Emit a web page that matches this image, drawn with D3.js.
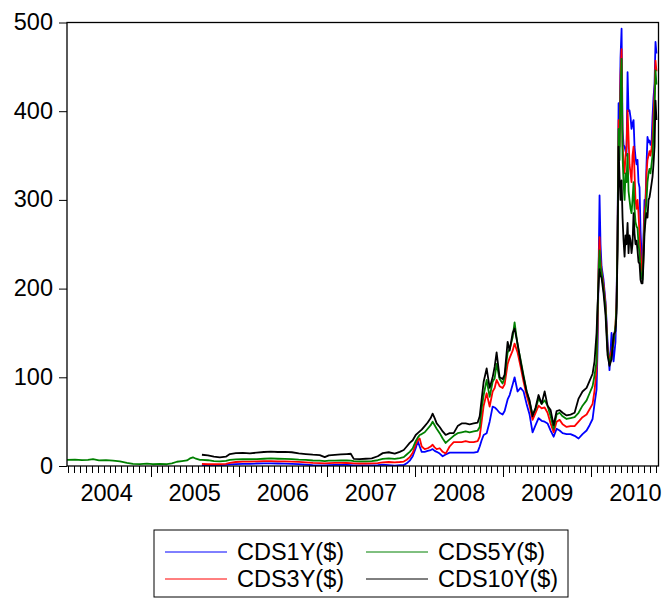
<!DOCTYPE html>
<html>
<head>
<meta charset="utf-8">
<script src="https://cdn.jsdelivr.net/npm/d3@7"></script>
<style>
  body { margin: 0; background: #fff; }
  text { font-family: "Liberation Sans", Arial, sans-serif; fill: #000; }
</style>
</head>
<body>
<svg id="chart" width="664" height="599"></svg>
<script>
// time in decimal years
const t = [
  2004.051, 2004.142, 2004.221, 2004.289, 2004.346, 2004.414, 2004.493, 2004.573, 2004.652, 2004.731,
  2004.799, 2004.879, 2004.958, 2005.026, 2005.105, 2005.185, 2005.241, 2005.298, 2005.355, 2005.412,
  2005.446, 2005.480, 2005.514, 2005.559,
  2005.582, 2005.650, 2005.718, 2005.786, 2005.854, 2005.899, 2005.967, 2006.046, 2006.126, 2006.205,
  2006.285, 2006.364, 2006.443, 2006.523, 2006.602, 2006.681, 2006.761, 2006.840, 2006.919, 2006.976,
  2007.022, 2007.090, 2007.158, 2007.226, 2007.271, 2007.305, 2007.373, 2007.441, 2007.509, 2007.577,
  2007.634, 2007.702, 2007.770, 2007.827, 2007.872, 2007.906, 2007.940, 2007.974, 2008.008, 2008.031,
  2008.053, 2008.076, 2008.110, 2008.144, 2008.178, 2008.200, 2008.223, 2008.246, 2008.280, 2008.314,
  2008.348, 2008.393, 2008.439, 2008.484, 2008.529, 2008.575, 2008.620, 2008.666, 2008.711, 2008.734,
  2008.756, 2008.779, 2008.813, 2008.847, 2008.881, 2008.904, 2008.926, 2008.960, 2008.994, 2009.017,
  2009.051, 2009.074, 2009.108, 2009.130, 2009.164, 2009.198, 2009.232, 2009.266, 2009.300, 2009.334,
  2009.368, 2009.402, 2009.437, 2009.471, 2009.504, 2009.539, 2009.573, 2009.607, 2009.641, 2009.675,
  2009.720, 2009.765, 2009.811, 2009.856, 2009.901, 2009.947, 2009.981, 2010.015, 2010.037, 2010.060,
  2010.071, 2010.083, 2010.094, 2010.105, 2010.117, 2010.139, 2010.162, 2010.185, 2010.207, 2010.230,
  2010.253, 2010.275, 2010.287, 2010.298, 2010.310, 2010.321, 2010.332, 2010.344, 2010.355, 2010.366,
  2010.378, 2010.389, 2010.400, 2010.412, 2010.423, 2010.434, 2010.446, 2010.457, 2010.468, 2010.480,
  2010.491, 2010.502, 2010.514, 2010.525, 2010.536, 2010.548, 2010.559, 2010.570, 2010.582, 2010.593,
  2010.604, 2010.616, 2010.627, 2010.638, 2010.650, 2010.661, 2010.672, 2010.684, 2010.695, 2010.706,
  2010.718, 2010.729, 2010.740
];

const _ = null;
const pre = Array(24).fill(_);

const cds1y = pre.concat([
  1.0, 0.8, 1.0, 1.0, 1.2, 1.8, 2.2, 2.5, 2.5, 2.8,
  3.0, 3.0, 2.8, 2.6, 2.5, 2.0, 1.6, 1.0, 0.8, 0.6,
  1.0, 1.2, 1.2, 1.2, 1.0, 0.8, 0.8, 0.8, 0.8, 1.0,
  1.5, 1.0, 0.5, 1.0, 1.0, 3.0, 6.0, 11, 20, 28,
  22, 16, 16, 17, 18, 19, 17, 16, 14, 11,
  13, 15, 15, 15, 15, 15, 15, 15, 16, 22,
  29, 35, 37, 50, 67, 66, 64, 60, 58, 62,
  75, 80, 92, 100, 84, 88, 84, 70, 58, 38,
  46, 54, 51, 50, 48, 40, 33, 42, 40, 37,
  36, 36, 34, 31, 36, 40, 46, 53, 70, 86,
  130, 220, 305, 250, 225, 210, 185, 140, 108, 150,
  118, 140, 190, 260, 409, 380, 460, 493, 380, 362,
  360, 355, 350, 444, 400, 401, 393, 380, 386, 390,
  360, 348, 340, 345, 320, 314, 266, 240, 217, 260,
  300, 300, 340, 371, 365, 367, 362, 364, 393, 415,
  431, 478, 465
]);

const cds3y = pre.concat([
  2.3, 2.0, 2.2, 2.0, 2.5, 3.5, 4.5, 5.0, 5.0, 5.2,
  5.5, 5.5, 5.3, 5.2, 5.0, 4.6, 4.0, 3.5, 3.2, 3.0,
  3.2, 3.5, 3.5, 3.4, 3.3, 3.0, 2.8, 2.8, 3.0, 3.2,
  4.0, 4.5, 4.0, 4.5, 5.0, 7.0, 10, 15, 24, 29,
  31, 22, 19, 20, 22, 24, 21, 19, 20, 16,
  14, 22, 27, 27, 27, 28, 27, 27, 28, 33,
  50, 68, 82, 67, 84, 88, 97, 90, 88, 92,
  115, 122, 130, 138, 128, 112, 95, 80, 68, 52,
  60, 68, 65, 66, 60, 48, 38, 50, 52, 47,
  44, 45, 45, 50, 55, 58, 64, 70, 85, 108,
  150, 225, 258, 232, 220, 205, 182, 133, 118, 130,
  138, 160, 185, 255, 390, 360, 440, 470, 365, 340,
  330, 350, 360, 401, 370, 340, 330, 320, 350, 360,
  330, 300, 290, 300, 285, 260, 240, 225, 215, 250,
  285, 295, 330, 345, 350, 355, 350, 358, 370, 395,
  420, 457, 445
]);

const cds5y = [
  7.0, 7.2, 6.6, 7.0, 7.8, 6.4, 6.6, 6.0, 5.2, 3.6,
  2.4, 2.2, 2.6, 2.0, 2.3, 2.0, 3.0, 4.8, 5.5, 6.3,
  8.5, 9.8, 8.2, 7.0,
  7.0, 6.5, 5.5, 5.2, 5.8, 7.0, 7.5, 7.8, 7.6, 7.8,
  8.2, 8.5, 8.2, 8.0, 7.8, 7.2, 6.8, 6.2, 6.0, 5.6,
  6.0, 6.0, 6.2, 6.2, 6.0, 5.4, 5.2, 5.3, 5.6, 6.5,
  8.0, 8.6, 8.0, 9.0, 10, 13, 16, 20, 28, 32,
  35, 36, 38, 42, 46, 50, 46, 42, 37, 31,
  26, 30, 34, 37, 38, 39, 38, 39, 40, 44,
  65, 80, 97, 78, 95, 99, 115, 98, 93, 100,
  128, 132, 145, 162, 136, 120, 102, 85, 72, 58,
  64, 76, 70, 74, 68, 56, 42, 58, 60, 56,
  53, 54, 55, 60, 68, 74, 82, 90, 102, 118,
  170, 215, 243, 225, 218, 200, 178, 130, 115, 125,
  140, 158, 180, 250, 380, 345, 420, 459, 350, 320,
  300, 330, 320, 352, 310, 300, 290, 285, 300, 320,
  290, 275, 270, 268, 250, 240, 222, 212, 210, 240,
  270, 285, 300, 320, 330, 335, 330, 340, 350, 375,
  400, 446, 430
];

const cds10y = pre.concat([
  12.7, 12.0, 10.5, 9.8, 10.5, 13.5, 14.5, 14.8, 14.3, 15.0,
  15.8, 16.2, 15.8, 16.0, 15.5, 14.3, 13.5, 12.8, 12.3, 10.0,
  12.0, 12.5, 13.0, 13.5, 13.8, 8.0, 7.8, 8.2, 8.6, 11.0,
  14.5, 15.5, 14.0, 16.0, 18.0, 22, 26, 29, 35, 37,
  39, 41, 45, 49, 54, 59, 54, 48, 44, 39,
  35, 37, 37, 45, 48, 48, 47, 48, 49, 56,
  75, 95, 110, 88, 100, 112, 128, 100, 98, 103,
  140, 130, 150, 155, 138, 118, 100, 84, 74, 56,
  66, 80, 70, 84, 68, 63, 46, 62, 63, 60,
  57, 58, 60, 76, 84, 88, 96, 104, 118, 150,
  180, 205, 222, 215, 212, 195, 170, 125, 113, 120,
  148, 152, 172, 245, 360, 326, 300, 322, 280, 255,
  236, 260, 250, 274, 240, 260, 254, 240, 250, 285,
  262, 250, 254, 243, 230, 228, 210, 206, 206, 230,
  262, 277, 285, 280, 300, 303, 310, 318, 326, 340,
  360, 412, 390
]);

const series = [
  { name: "CDS1Y($)", values: cds1y, color: "#0000ff" },
  { name: "CDS3Y($)", values: cds3y, color: "#ff0000" },
  { name: "CDS5Y($)", values: cds5y, color: "#008000" },
  { name: "CDS10Y($)", values: cds10y, color: "#000000" }
];
const yTicks = [0, 100, 200, 300, 400, 500];
const yearLabels = [2004, 2005, 2006, 2007, 2008, 2009, 2010];

const margin = { top: 22.5, right: 5.5, bottom: 133, left: 67 };
const width = 664, height = 599;
const plotW = width - margin.left - margin.right;
const plotH = height - margin.top - margin.bottom;
const fontSize = "23.5px";

const svg = d3.select("#chart");
const g = svg.append("g").attr("transform", `translate(${margin.left},${margin.top})`);

const x = d3.scaleLinear().domain([2004.051, 2010.763]).range([0, plotW]);
const y = d3.scaleLinear().domain([0, 500]).range([plotH, 0]);

svg.append("defs").append("clipPath").attr("id", "clip")
  .append("rect").attr("width", plotW).attr("height", plotH);

// y axis
const yAxis = g.append("g").call(d3.axisLeft(y).tickValues(yTicks).tickSize(8).tickPadding(6));
yAxis.select(".domain").remove();
yAxis.selectAll("line").attr("stroke", "#000");
yAxis.selectAll("text").style("font-size", fontSize).attr("dy", "0.3em");

// x axis: minor ticks 15 per year, major at year starts
const minor = [];
for (let yr = 2004; yr <= 2010; yr++) {
  for (let k = 0; k < 15; k++) {
    const v = yr + k / 15;
    if (v >= x.domain()[0] && v <= x.domain()[1]) minor.push(v);
  }
}
const ax = g.append("g").attr("transform", `translate(0,${plotH})`);
ax.selectAll("line.tick").data(minor).enter().append("line")
  .attr("x1", d => Math.round(x(d)) + 0.5).attr("x2", d => Math.round(x(d)) + 0.5)
  .attr("y1", 0).attr("y2", d => Math.abs(d - Math.round(d)) < 1e-6 ? 11 : 7)
  .attr("stroke", "#000").attr("stroke-width", 1);
ax.selectAll("text.year").data(yearLabels).enter().append("text")
  .attr("x", d => x(d + 0.5)).attr("y", 35)
  .attr("text-anchor", "middle").style("font-size", fontSize)
  .text(d => d);

// lines
const line = d3.line()
  .defined(d => d.v != null)
  .x(d => x(d.t))
  .y(d => y(d.v));

const plot = g.append("g").attr("clip-path", "url(#clip)");
series.forEach(s => {
  const pts = t.map((tt, i) => ({ t: tt, v: s.values[i] }));
  plot.append("path").datum(pts)
    .attr("fill", "none")
    .attr("stroke", s.color)
    .attr("stroke-width", 1.8)
    .attr("stroke-linejoin", "round")
    .attr("d", line);
});

// frame
g.append("rect").attr("width", plotW).attr("height", plotH)
  .attr("fill", "none").attr("stroke", "#000").attr("stroke-width", 1.3);

// legend
const lg = svg.append("g").attr("transform", "translate(154,530)");
lg.append("rect").attr("width", 414).attr("height", 67)
  .attr("fill", "#fff").attr("stroke", "#000").attr("stroke-width", 1);
const legPos = [
  { s: series[0], x: 11, y: 22 },
  { s: series[1], x: 11, y: 49 },
  { s: series[2], x: 212, y: 22 },
  { s: series[3], x: 212, y: 49 }
];
legPos.forEach(p => {
  lg.append("line").attr("x1", p.x).attr("x2", p.x + 62)
    .attr("y1", p.y).attr("y2", p.y)
    .attr("stroke", p.s.color).attr("stroke-width", 1);
  lg.append("text").attr("x", p.x + 72).attr("y", p.y).attr("dy", "0.36em")
    .style("font-size", fontSize).text(p.s.name);
});
</script>
</body>
</html>
